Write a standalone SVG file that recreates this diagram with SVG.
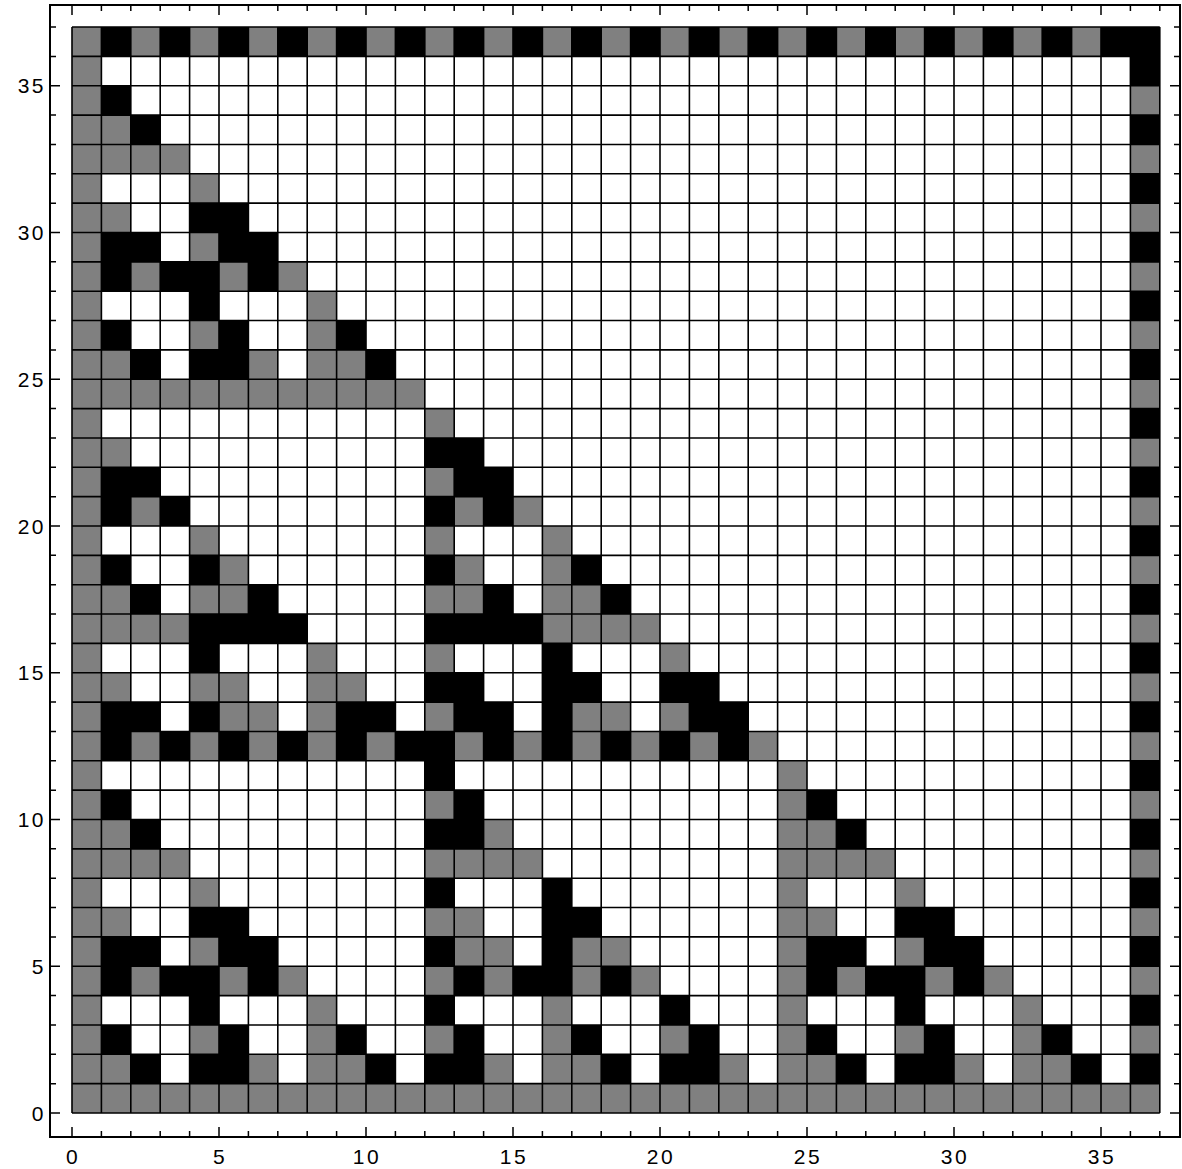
<svg xmlns="http://www.w3.org/2000/svg" xmlns:xlink="http://www.w3.org/1999/xlink" width="1182" height="1169" viewBox="0 0 1182 1169">
<style>
.g{fill:#808080}
.k{fill:#000}
.grid{fill:none;stroke:#000;stroke-width:1.6}
.ax{fill:none;stroke:#000;stroke-width:2}
.tk{fill:none;stroke:#000;stroke-width:1.5}
.lb{font-family:"Liberation Sans",Arial,sans-serif;font-size:21px;letter-spacing:2.5px;fill:#000}
</style>
<defs>
<g id="T">
<path class="g" d="M0 0h12v1h-12zM0 1h2v1h-2zM6 1h1v1h-1zM8 1h2v1h-2zM0 2h1v1h-1zM4 2h1v1h-1zM8 2h1v1h-1zM0 3h1v1h-1zM8 3h1v1h-1zM0 4h1v1h-1zM2 4h1v1h-1zM5 4h1v1h-1zM7 4h1v1h-1zM0 5h1v1h-1zM4 5h1v1h-1zM0 6h2v1h-2zM0 7h1v1h-1zM4 7h1v1h-1zM0 8h4v1h-4zM0 9h2v1h-2zM0 10h1v1h-1zM0 11h1v1h-1z"/>
<path class="k" d="M2 1h1v1h-1zM4 1h2v1h-2zM10 1h1v1h-1zM1 2h1v1h-1zM5 2h1v1h-1zM9 2h1v1h-1zM4 3h1v1h-1zM1 4h1v1h-1zM3 4h2v1h-2zM6 4h1v1h-1zM1 5h2v1h-2zM5 5h2v1h-2zM4 6h2v1h-2zM2 9h1v1h-1zM1 10h1v1h-1z"/>
</g>
<g id="B">
<path class="g" d="M0 0h12v1h-12zM2 1h1v1h-1zM4 1h2v1h-2zM10 1h1v1h-1zM0 2h1v1h-1zM4 2h1v1h-1zM8 2h1v1h-1zM4 3h1v1h-1zM0 4h1v1h-1zM2 4h1v1h-1zM5 4h1v1h-1zM7 4h1v1h-1zM1 5h2v1h-2zM5 5h2v1h-2zM0 6h2v1h-2zM0 8h4v1h-4zM2 9h1v1h-1zM0 10h1v1h-1z"/>
<path class="k" d="M0 1h2v1h-2zM6 1h1v1h-1zM8 1h2v1h-2zM1 2h1v1h-1zM5 2h1v1h-1zM9 2h1v1h-1zM0 3h1v1h-1zM8 3h1v1h-1zM1 4h1v1h-1zM3 4h2v1h-2zM6 4h1v1h-1zM0 5h1v1h-1zM4 5h1v1h-1zM4 6h2v1h-2zM0 7h1v1h-1zM4 7h1v1h-1zM0 9h2v1h-2zM1 10h1v1h-1zM0 11h1v1h-1z"/>
</g>
<g id="A">
<path class="g" d="M0 0h1v1h-1zM2 0h1v1h-1zM4 0h1v1h-1zM6 0h1v1h-1zM8 0h1v1h-1zM10 0h1v1h-1zM0 1h1v1h-1zM5 1h2v1h-2zM8 1h1v1h-1zM0 2h2v1h-2zM4 2h2v1h-2zM8 2h2v1h-2zM0 3h1v1h-1zM8 3h1v1h-1zM0 4h4v1h-4zM0 5h2v1h-2zM4 5h2v1h-2zM0 6h1v1h-1zM5 6h1v1h-1zM0 7h1v1h-1zM4 7h1v1h-1zM0 8h1v1h-1zM2 8h1v1h-1zM0 9h1v1h-1zM0 10h2v1h-2zM0 11h1v1h-1z"/>
<path class="k" d="M1 0h1v1h-1zM3 0h1v1h-1zM5 0h1v1h-1zM7 0h1v1h-1zM9 0h1v1h-1zM11 0h1v1h-1zM1 1h2v1h-2zM4 1h1v1h-1zM9 1h2v1h-2zM4 3h1v1h-1zM4 4h4v1h-4zM2 5h1v1h-1zM6 5h1v1h-1zM1 6h1v1h-1zM4 6h1v1h-1zM1 8h1v1h-1zM3 8h1v1h-1zM1 9h2v1h-2z"/>
</g>
<g id="C">
<path class="g" d="M1 0h1v1h-1zM3 0h1v1h-1zM5 0h1v1h-1zM7 0h1v1h-1zM9 0h1v1h-1zM11 0h1v1h-1zM0 1h1v1h-1zM5 1h2v1h-2zM8 1h1v1h-1zM0 3h1v1h-1zM8 3h1v1h-1zM4 4h4v1h-4zM0 5h2v1h-2zM4 5h2v1h-2zM1 6h1v1h-1zM4 6h1v1h-1zM0 7h1v1h-1zM4 7h1v1h-1zM1 8h1v1h-1zM3 8h1v1h-1zM0 9h1v1h-1zM0 11h1v1h-1z"/>
<path class="k" d="M0 0h1v1h-1zM2 0h1v1h-1zM4 0h1v1h-1zM6 0h1v1h-1zM8 0h1v1h-1zM10 0h1v1h-1zM1 1h2v1h-2zM4 1h1v1h-1zM9 1h2v1h-2zM0 2h2v1h-2zM4 2h2v1h-2zM8 2h2v1h-2zM4 3h1v1h-1zM0 4h4v1h-4zM2 5h1v1h-1zM6 5h1v1h-1zM0 6h1v1h-1zM5 6h1v1h-1zM0 8h1v1h-1zM2 8h1v1h-1zM1 9h2v1h-2zM0 10h2v1h-2z"/>
</g>
</defs>
<rect width="1182" height="1169" fill="#fff"/>
<g id="cells" transform="translate(72 1113) scale(29.4 -29.35)">
<use xlink:href="#T"/>
<use xlink:href="#B" x="12"/>
<use xlink:href="#T" x="24"/>
<use xlink:href="#A" y="12"/>
<use xlink:href="#C" x="12" y="12"/>
<use xlink:href="#T" y="24"/>
<path class="g" d="M36 0h1v36h-1zM0 36h36v1h-36z"/>
<path class="k" d="M36 1h1v1h-1zM36 3h1v1h-1zM36 5h1v1h-1zM36 7h1v1h-1zM36 9h1v1h-1zM36 11h1v1h-1zM36 13h1v1h-1zM36 15h1v1h-1zM36 17h1v1h-1zM36 19h1v1h-1zM36 21h1v1h-1zM36 23h1v1h-1zM36 25h1v1h-1zM36 27h1v1h-1zM36 29h1v1h-1zM36 31h1v1h-1zM36 33h1v1h-1zM36 35h1v2h-1zM1 36h1v1h-1zM3 36h1v1h-1zM5 36h1v1h-1zM7 36h1v1h-1zM9 36h1v1h-1zM11 36h1v1h-1zM13 36h1v1h-1zM15 36h1v1h-1zM17 36h1v1h-1zM19 36h1v1h-1zM21 36h1v1h-1zM23 36h1v1h-1zM25 36h1v1h-1zM27 36h1v1h-1zM29 36h1v1h-1zM31 36h1v1h-1zM33 36h1v1h-1zM35 36h1v1h-1z"/>
<path class="grid" vector-effect="non-scaling-stroke" d="M0 0V37M1 0V37M2 0V37M3 0V37M4 0V37M5 0V37M6 0V37M7 0V37M8 0V37M9 0V37M10 0V37M11 0V37M12 0V37M13 0V37M14 0V37M15 0V37M16 0V37M17 0V37M18 0V37M19 0V37M20 0V37M21 0V37M22 0V37M23 0V37M24 0V37M25 0V37M26 0V37M27 0V37M28 0V37M29 0V37M30 0V37M31 0V37M32 0V37M33 0V37M34 0V37M35 0V37M36 0V37M37 0V37M0 0H37M0 1H37M0 2H37M0 3H37M0 4H37M0 5H37M0 6H37M0 7H37M0 8H37M0 9H37M0 10H37M0 11H37M0 12H37M0 13H37M0 14H37M0 15H37M0 16H37M0 17H37M0 18H37M0 19H37M0 20H37M0 21H37M0 22H37M0 23H37M0 24H37M0 25H37M0 26H37M0 27H37M0 28H37M0 29H37M0 30H37M0 31H37M0 32H37M0 33H37M0 34H37M0 35H37M0 36H37M0 37H37"/>
</g>
<g id="axes">
<rect class="ax" x="50" y="5" width="1130" height="1132"/>
<path class="tk" d="M72 1137v-10M101.4 1137v-6M130.8 1137v-6M160.2 1137v-6M189.6 1137v-6M219 1137v-10M248.4 1137v-6M277.8 1137v-6M307.2 1137v-6M336.6 1137v-6M366 1137v-10M395.4 1137v-6M424.8 1137v-6M454.2 1137v-6M483.6 1137v-6M513 1137v-10M542.4 1137v-6M571.8 1137v-6M601.2 1137v-6M630.6 1137v-6M660 1137v-10M689.4 1137v-6M718.8 1137v-6M748.2 1137v-6M777.6 1137v-6M807 1137v-10M836.4 1137v-6M865.8 1137v-6M895.2 1137v-6M924.6 1137v-6M954 1137v-10M983.4 1137v-6M1012.8 1137v-6M1042.2 1137v-6M1071.6 1137v-6M1101 1137v-10M1130.4 1137v-6M1159.8 1137v-6"/>
<path class="tk" d="M72 5v10M101.4 5v6M130.8 5v6M160.2 5v6M189.6 5v6M219 5v10M248.4 5v6M277.8 5v6M307.2 5v6M336.6 5v6M366 5v10M395.4 5v6M424.8 5v6M454.2 5v6M483.6 5v6M513 5v10M542.4 5v6M571.8 5v6M601.2 5v6M630.6 5v6M660 5v10M689.4 5v6M718.8 5v6M748.2 5v6M777.6 5v6M807 5v10M836.4 5v6M865.8 5v6M895.2 5v6M924.6 5v6M954 5v10M983.4 5v6M1012.8 5v6M1042.2 5v6M1071.6 5v6M1101 5v10M1130.4 5v6M1159.8 5v6"/>
<path class="tk" d="M50 1113h10M50 1083.65h6M50 1054.3h6M50 1024.95h6M50 995.6h6M50 966.25h10M50 936.9h6M50 907.55h6M50 878.2h6M50 848.85h6M50 819.5h10M50 790.15h6M50 760.8h6M50 731.45h6M50 702.1h6M50 672.75h10M50 643.4h6M50 614.05h6M50 584.7h6M50 555.35h6M50 526h10M50 496.65h6M50 467.3h6M50 437.95h6M50 408.6h6M50 379.25h10M50 349.9h6M50 320.55h6M50 291.2h6M50 261.85h6M50 232.5h10M50 203.15h6M50 173.8h6M50 144.45h6M50 115.1h6M50 85.75h10M50 56.4h6M50 27.05h6"/>
<path class="tk" d="M1180 1113h-10M1180 1083.65h-6M1180 1054.3h-6M1180 1024.95h-6M1180 995.6h-6M1180 966.25h-10M1180 936.9h-6M1180 907.55h-6M1180 878.2h-6M1180 848.85h-6M1180 819.5h-10M1180 790.15h-6M1180 760.8h-6M1180 731.45h-6M1180 702.1h-6M1180 672.75h-10M1180 643.4h-6M1180 614.05h-6M1180 584.7h-6M1180 555.35h-6M1180 526h-10M1180 496.65h-6M1180 467.3h-6M1180 437.95h-6M1180 408.6h-6M1180 379.25h-10M1180 349.9h-6M1180 320.55h-6M1180 291.2h-6M1180 261.85h-6M1180 232.5h-10M1180 203.15h-6M1180 173.8h-6M1180 144.45h-6M1180 115.1h-6M1180 85.75h-10M1180 56.4h-6M1180 27.05h-6"/>
</g>
<g id="xlabels" class="lb" text-anchor="middle">
<text x="73" y="1164">0</text>
<text x="220" y="1164">5</text>
<text x="367" y="1164">10</text>
<text x="514" y="1164">15</text>
<text x="661" y="1164">20</text>
<text x="808" y="1164">25</text>
<text x="955" y="1164">30</text>
<text x="1102" y="1164">35</text>
</g>
<g id="ylabels" class="lb" text-anchor="end">
<text x="46" y="1120.5">0</text>
<text x="46" y="973.75">5</text>
<text x="46" y="827">10</text>
<text x="46" y="680.25">15</text>
<text x="46" y="533.5">20</text>
<text x="46" y="386.75">25</text>
<text x="46" y="240">30</text>
<text x="46" y="93.25">35</text>
</g>
</svg>
